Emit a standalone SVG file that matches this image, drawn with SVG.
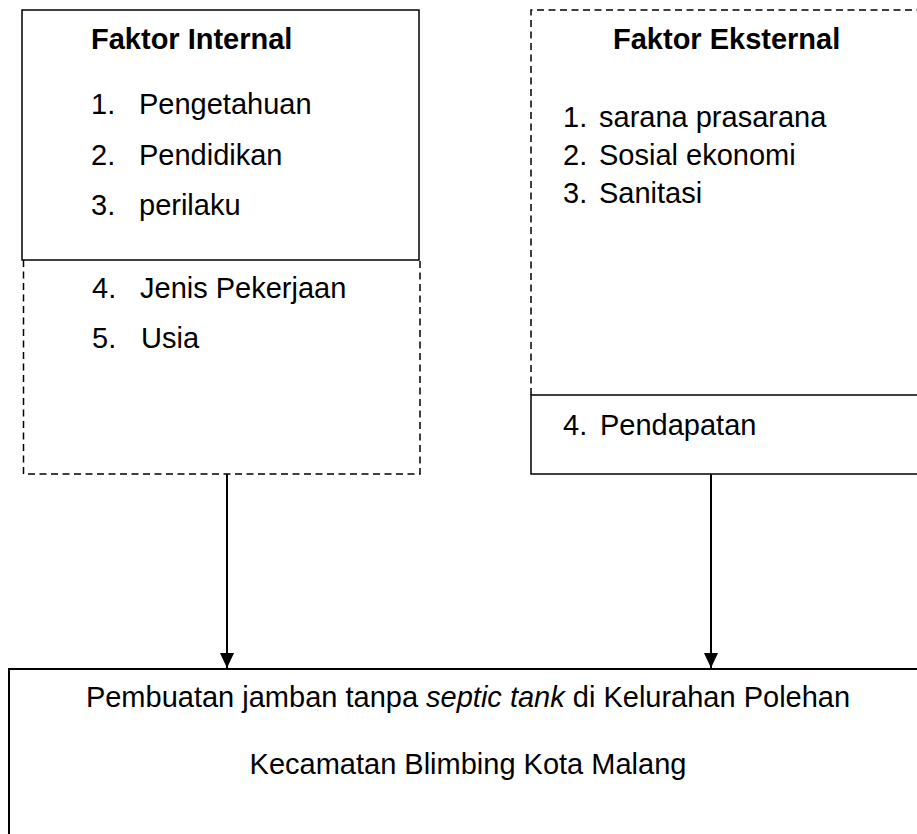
<svg xmlns="http://www.w3.org/2000/svg" width="917" height="834" viewBox="0 0 917 834">
<defs>
<style>
.t{font-family:"Liberation Sans",Arial,sans-serif;font-size:29px;fill:#000}
.b{font-weight:bold}
.solid{fill:none;stroke:#000;stroke-width:1.5}
.dash{fill:none;stroke:#000;stroke-width:1.5;stroke-dasharray:7 4.5}
.conn{stroke:#000;stroke-width:2;fill:none}
</style>
<marker id="arr" viewBox="0 0 15 14" refX="15" refY="7" markerWidth="15" markerHeight="14" markerUnits="userSpaceOnUse" orient="auto">
<path d="M0,0 L15,7 L0,14 Z" fill="#000"/>
</marker>
</defs>
<rect width="917" height="834" fill="#fff"/>
<g id="faktor-internal">
<rect class="solid" x="22" y="10" width="397" height="250"/>
<path class="dash" d="M23.5,260 V474 H420 V260"/>
<text class="t b" x="91" y="49">Faktor Internal</text>
<text class="t" x="91" y="114">1.</text><text class="t" x="139" y="114">Pengetahuan</text>
<text class="t" x="91" y="165">2.</text><text class="t" x="139" y="165">Pendidikan</text>
<text class="t" x="91" y="215">3.</text><text class="t" x="139" y="215">perilaku</text>
<text class="t" x="92" y="298">4.</text><text class="t" x="140" y="298">Jenis Pekerjaan</text>
<text class="t" x="92" y="348">5.</text><text class="t" x="141" y="348">Usia</text>
</g>
<g id="faktor-eksternal">
<path class="dash" d="M531,395 V10 H920"/>
<path class="solid" d="M920,395 H531 V474 H920"/>
<text class="t b" x="613" y="49">Faktor Eksternal</text>
<text class="t" x="563" y="127">1.</text><text class="t" x="599" y="127">sarana prasarana</text>
<text class="t" x="563" y="165">2.</text><text class="t" x="599" y="165">Sosial ekonomi</text>
<text class="t" x="563" y="203">3.</text><text class="t" x="599" y="203">Sanitasi</text>
<text class="t" x="563" y="435">4.</text><text class="t" x="600" y="435">Pendapatan</text>
</g>
<g id="hasil">
<path d="M920,669 H9 V840" fill="none" stroke="#000" stroke-width="2"/>
<text class="t" x="468" y="707" text-anchor="middle">Pembuatan jamban tanpa <tspan font-style="italic">septic tank</tspan> di Kelurahan Polehan</text>
<text class="t" x="468" y="774" text-anchor="middle">Kecamatan Blimbing Kota Malang</text>
</g>
<g id="connectors">
<line class="conn" x1="227" y1="474" x2="227" y2="668" marker-end="url(#arr)"/>
<line class="conn" x1="711" y1="474" x2="711" y2="668" marker-end="url(#arr)"/>
</g>
</svg>
